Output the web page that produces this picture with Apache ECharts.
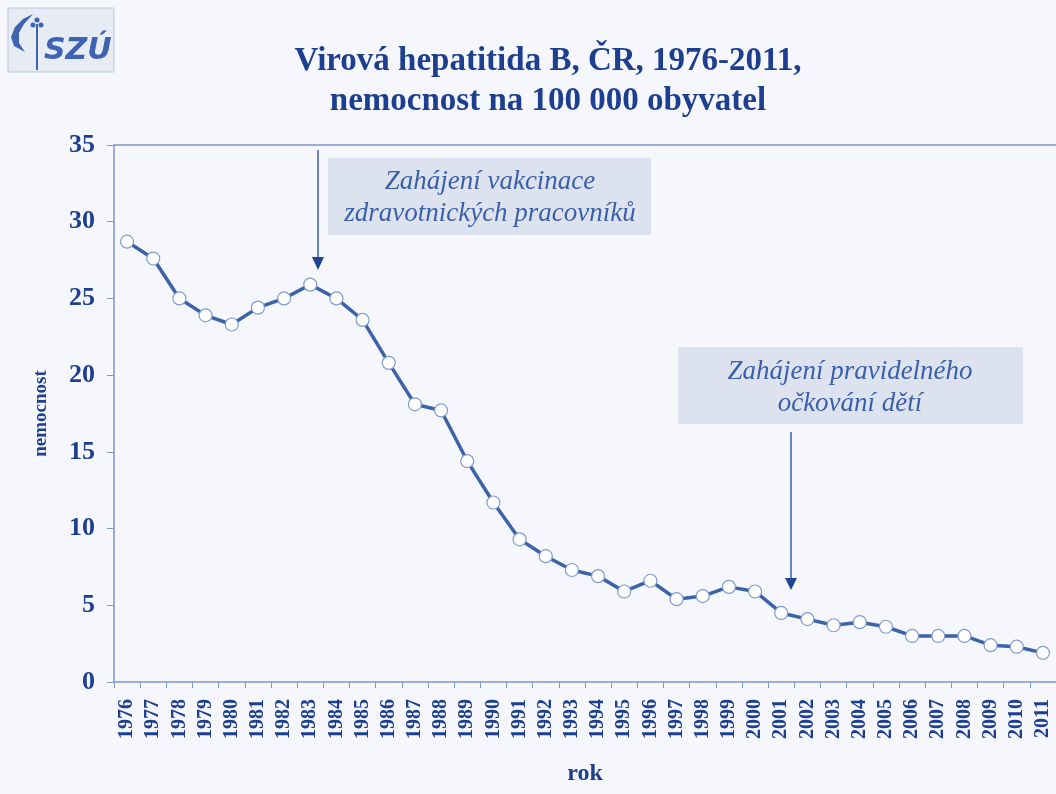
<!DOCTYPE html>
<html>
<head>
<meta charset="utf-8">
<script src="https://cdn.jsdelivr.net/npm/echarts@6/dist/echarts.min.js"></script>
<style>
  html, body { margin: 0; padding: 0; background: #f5f7fc; }
  #chart { width: 1056px; height: 794px; }
</style>
</head>
<body>
<div id="chart"></div>
<script>
// data
var years = ['1976','1977','1978','1979','1980','1981','1982','1983','1984','1985',
  '1986','1987','1988','1989','1990','1991','1992','1993','1994','1995',
  '1996','1997','1998','1999','2000','2001','2002','2003','2004','2005',
  '2006','2007','2008','2009','2010','2011'];
var nemocnost = [28.7, 27.6, 25.0, 23.9, 23.3, 24.4, 25.0, 25.9, 25.0, 23.6,
  20.8, 18.1, 17.7, 14.4, 11.7, 9.3, 8.2, 7.3, 6.9, 5.9,
  6.6, 5.4, 5.6, 6.2, 5.9, 4.5, 4.1, 3.7, 3.9, 3.6,
  3.0, 3.0, 3.0, 2.4, 2.3, 1.9];
var yTicks = [0, 5, 10, 15, 20, 25, 30, 35];

var titleText = 'Virová hepatitida B, ČR, 1976-2011,\nnemocnost na 100 000 obyvatel';
var note1 = 'Zahájení vakcinace\nzdravotnických pracovníků';
var note2 = 'Zahájení pravidelného\nočkování dětí';

var dark = '#1d3f8f';
var lineCol = '#3c63aa';
var axisCol = '#7d97c9';
var noteCol = '#3a5fab';
var logoCol = '#3e63b3';
var serif = '"Liberation Serif", "DejaVu Serif", serif';

var myChart = echarts.init(document.getElementById('chart'));

var option = {
  backgroundColor: '#f5f7fc',
  animation: false,
  title: {
    text: titleText,
    left: 543,
    textAlign: 'center',
    top: 36,
    textStyle: {
      fontFamily: serif,
      fontWeight: 'bold',
      fontSize: 33,
      lineHeight: 40,
      color: dark
    }
  },
  grid: { left: 114, top: 145, width: 945, bottom: 112 },
  xAxis: [{
    type: 'category',
    data: years,
    boundaryGap: true,
    name: 'rok',
    nameLocation: 'middle',
    nameGap: 80,
    nameTextStyle: { fontFamily: serif, fontWeight: 'bold', fontSize: 24, color: dark },
    axisLine: { lineStyle: { color: axisCol, width: 1.5 } },
    axisTick: { show: true, length: 6, lineStyle: { color: axisCol } },
    axisLabel: {
      rotate: 90,
      interval: 0,
      margin: 17,
      fontFamily: serif,
      fontWeight: 'bold',
      fontSize: 20,
      color: dark
    }
  }, {
    // top border of the plot
    type: 'category',
    data: years,
    position: 'top',
    axisLine: { show: true, lineStyle: { color: axisCol, width: 1.5 } },
    axisTick: { show: false },
    axisLabel: { show: false }
  }],
  yAxis: {
    type: 'value',
    min: 0,
    max: 35,
    interval: 5,
    name: 'nemocnost',
    nameLocation: 'middle',
    nameGap: 63,
    nameRotate: 90,
    nameTextStyle: { fontFamily: serif, fontWeight: 'bold', fontSize: 19, color: dark },
    axisLine: { show: true, lineStyle: { color: axisCol, width: 1.5 } },
    axisTick: { show: true, length: 7, lineStyle: { color: axisCol } },
    splitLine: { show: false },
    axisLabel: {
      margin: 19,
      fontFamily: serif,
      fontWeight: 'bold',
      fontSize: 26,
      color: dark,
      formatter: function (v) { return yTicks.indexOf(v) >= 0 ? String(v) : ''; }
    }
  },
  series: [{
    type: 'line',
    data: nemocnost,
    symbol: 'circle',
    symbolSize: 13,
    lineStyle: { color: lineCol, width: 3.5 },
    itemStyle: { color: '#ffffff', borderColor: '#7f9bd0', borderWidth: 1.2 },
    z: 3
  }],
  graphic: [
    // logo SZÚ
    { type: 'rect', shape: { x: 8, y: 8, width: 106, height: 64 },
      style: { fill: '#e6ebf4', stroke: '#b9c6df', lineWidth: 1 } },
    { type: 'polygon',
      shape: { points: [[33, 14], [23, 19], [15, 27], [11, 37], [14, 46], [25, 52],
                        [19, 43], [19, 33], [24, 24]] },
      style: { fill: logoCol } },
    { type: 'line', shape: { x1: 37, y1: 24, x2: 37, y2: 70 },
      style: { stroke: logoCol, lineWidth: 2 } },
    { type: 'circle', shape: { cx: 37, cy: 20, r: 2.5 }, style: { fill: logoCol } },
    { type: 'circle', shape: { cx: 33, cy: 25, r: 2.5 }, style: { fill: logoCol } },
    { type: 'circle', shape: { cx: 41, cy: 25, r: 2.5 }, style: { fill: logoCol } },
    { type: 'text', left: 44, top: 36,
      style: { text: 'SZÚ', font: 'italic bold 30px "DejaVu Sans", sans-serif', fill: logoCol } },
    // annotation 1
    { type: 'rect', shape: { x: 328, y: 158, width: 323, height: 77 },
      style: { fill: '#dde3ee' } },
    { type: 'text', x: 490, y: 198,
      style: { text: note1, font: 'italic 27px ' + serif, fill: noteCol,
        align: 'center', verticalAlign: 'middle', lineHeight: 32 } },
    { type: 'line', shape: { x1: 318, y1: 150, x2: 318, y2: 262 },
      style: { stroke: noteCol, lineWidth: 1.5 } },
    { type: 'polygon', shape: { points: [[312, 257], [324, 257], [318, 270]] },
      style: { fill: '#1f4593' } },
    // annotation 2
    { type: 'rect', shape: { x: 678, y: 347, width: 345, height: 77 },
      style: { fill: '#dde3ee' } },
    { type: 'text', x: 850, y: 388,
      style: { text: note2, font: 'italic 27px ' + serif, fill: noteCol,
        align: 'center', verticalAlign: 'middle', lineHeight: 32 } },
    { type: 'line', shape: { x1: 791, y1: 432, x2: 791, y2: 582 },
      style: { stroke: noteCol, lineWidth: 1.5 } },
    { type: 'polygon', shape: { points: [[785, 578], [797, 578], [791, 590]] },
      style: { fill: '#1f4593' } }
  ]
};

myChart.setOption(option);
</script>
</body>
</html>
